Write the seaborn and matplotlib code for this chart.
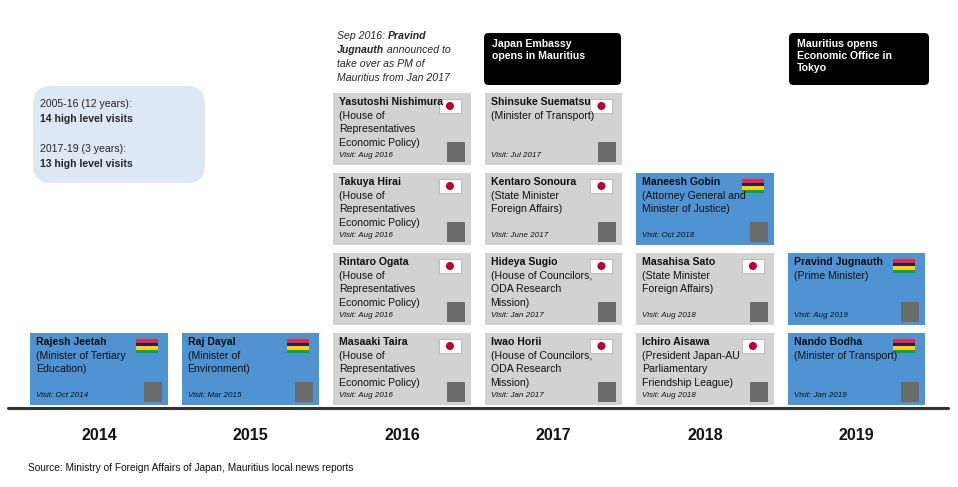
import matplotlib
matplotlib.use("Agg")
import matplotlib.pyplot as plt
from matplotlib.patches import Rectangle, FancyBboxPatch, Circle
import seaborn as sns

sns.set_theme(style="white")
plt.rcParams['font.family'] = ['Liberation Sans', 'DejaVu Sans']

years = ["2014", "2015", "2016", "2017", "2018", "2019"]
# (year index, row, country, name, description lines, visit)
visit_year = [0, 1, 2, 2, 2, 2, 3, 3, 3, 3, 4, 4, 4, 5, 5]
visit_row = [0, 0, 0, 1, 2, 3, 0, 1, 2, 3, 0, 1, 2, 0, 1]
visit_country = ["MU", "MU", "JP", "JP", "JP", "JP", "JP", "JP", "JP", "JP", "JP", "JP", "MU", "MU", "MU"]
visit_names = ["Rajesh Jeetah", "Raj Dayal", "Masaaki Taira", "Rintaro Ogata", "Takuya Hirai",
               "Yasutoshi Nishimura", "Iwao Horii", "Hideya Sugio", "Kentaro Sonoura",
               "Shinsuke Suematsu", "Ichiro Aisawa", "Masahisa Sato", "Maneesh Gobin",
               "Nando Bodha", "Pravind Jugnauth"]
hr = ["(House of", "Representatives", "Economic Policy)"]
hc = ["(House of Councilors,", "ODA Research", "Mission)"]
sm = ["(State Minister", "Foreign Affairs)"]
visit_roles = [["(Minister of Tertiary", "Education)"], ["(Minister of", "Environment)"],
               hr, hr, hr, hr, hc, hc, sm, ["(Minister of Transport)"],
               ["(President Japan-AU", "Parliamentary", "Friendship League)"], sm,
               ["(Attorney General and", "Minister of Justice)"],
               ["(Minister of Transport)"], ["(Prime Minister)"]]
visit_dates = ["Oct 2014", "Mar 2015", "Aug 2016", "Aug 2016", "Aug 2016", "Aug 2016",
               "Jan 2017", "Jan 2017", "June 2017", "Jul 2017", "Aug 2018", "Aug 2018",
               "Oct 2018", "Jan 2019", "Aug 2019"]

BLUE = "#4f93d2"
GRAY = "#d2d2d2"
SX, SY = 151.5, 80.0  # pixels per unit

fig = plt.figure(figsize=(9.58, 4.87), dpi=100)
ax = fig.add_axes([0, 0, 1, 1])
ax.set_xlim(-99 / SX, (958 - 99) / SX)
ax.set_ylim((405 - 487) / SY, 405 / SY)
ax.axis("off")

def P(px, py):
    return ((px - 99) / SX, (405 - py) / SY)

colors = [BLUE if c == "MU" else GRAY for c in visit_country]
ax.bar(visit_year, [0.9] * len(visit_year), bottom=visit_row, width=0.91,
       color=colors, align="center", edgecolor="none")

fs = 7.6
for yi, r, c, n, roles, d in zip(visit_year, visit_row, visit_country, visit_names, visit_roles, visit_dates):
    left = yi - 0.455
    top = r + 0.9
    ax.text(left + 6 / SX, top - 4 / SY, n, fontsize=fs, weight="bold", va="top", ha="left", color="#111")
    for k, line in enumerate(roles):
        ax.text(left + 6 / SX, top - (18 + 13.5 * k) / SY, line, fontsize=fs, va="top", ha="left", color="#111")
    ax.text(left + 6 / SX, r + 6 / SY, "Visit: " + d, fontsize=5.8, style="italic", va="bottom", ha="left", color="#111")
    # flag
    fx, fy = yi + 0.455 - 32 / SX, top - 20 / SY
    fw, fh = 22 / SX, 14 / SY
    if c == "MU":
        for k, col in enumerate(["#ea2839", "#1a206d", "#ffd500", "#00a551"]):
            ax.add_patch(Rectangle((fx, fy + fh - (k + 1) * fh / 4), fw, fh / 4, color=col, lw=0))
    else:
        ax.add_patch(Rectangle((fx, fy), fw, fh, facecolor="white", edgecolor="#999", lw=0.4))
        ax.add_patch(matplotlib.patches.Ellipse((fx + fw / 2, fy + fh / 2), 8 / SX, 8 / SY, color="#bc002d", lw=0))
    # photo placeholder
    ax.add_patch(Rectangle((yi + 0.455 - 24 / SX, r + 3 / SY), 18 / SX, 20 / SY, color="#6b6b6b", lw=0))

# baseline
ax.plot([P(8, 0)[0], P(948, 0)[0]], [P(0, 408)[1]] * 2, color="#333", lw=2.2)
for i, y in enumerate(years):
    ax.text(i, P(0, 435)[1], y, fontsize=11.5, weight="bold", ha="center", va="center", color="#111")

ax.text(*P(28, 468), "Source: Ministry of Foreign Affairs of Japan, Mauritius local news reports",
        fontsize=7.3, ha="left", va="center", color="#111")

# summary box
x0, y0 = P(33, 183)
x1, y1 = P(205, 86)
ax.add_patch(FancyBboxPatch((x0, y0), x1 - x0, y1 - y0, boxstyle="round,pad=0,rounding_size=0.12",
                            facecolor="#dce9f5", edgecolor="none", mutation_aspect=SX / SY))
ax.text(*P(40, 104), "2005-16 (12 years):", fontsize=fs, va="center")
ax.text(*P(40, 119), "14 high level visits", fontsize=fs, weight="bold", va="center")
ax.text(*P(40, 149), "2017-19 (3 years):", fontsize=fs, va="center")
ax.text(*P(40, 164), "13 high level visits", fontsize=fs, weight="bold", va="center")

# black boxes
for (l, t, r_, b, txt) in [(484, 33, 621, 85, "Japan Embassy\nopens in Mauritius"),
                          (789, 33, 929, 85, "Mauritius opens\nEconomic Office in\nTokyo")]:
    a0, b0 = P(l, b)
    a1, b1 = P(r_, t)
    ax.add_patch(FancyBboxPatch((a0, b0), a1 - a0, b1 - b0, boxstyle="round,pad=0,rounding_size=0.03",
                                facecolor="black", edgecolor="none", mutation_aspect=SX / SY))
    ax.text(*P(l + 8, t + 6), txt, fontsize=fs, weight="bold", color="white", va="top", ha="left", linespacing=1.25)

# 2016 note
t1 = ax.text(*P(337, 36), "Sep 2016: ", fontsize=fs, style="italic", va="center")
ax.annotate("Pravind", xy=(1, 0), xycoords=t1, fontsize=fs, style="italic", weight="bold", va="bottom")
t2 = ax.text(*P(337, 50), "Jugnauth", fontsize=fs, style="italic", weight="bold", va="center")
ax.annotate(" announced to", xy=(1, 0), xycoords=t2, fontsize=fs, style="italic", va="bottom")
ax.text(*P(337, 64), "take over as PM of", fontsize=fs, style="italic", va="center")
ax.text(*P(337, 78), "Mauritius from Jan 2017", fontsize=fs, style="italic", va="center")

fig.savefig("out.png", dpi=100, facecolor="white")
